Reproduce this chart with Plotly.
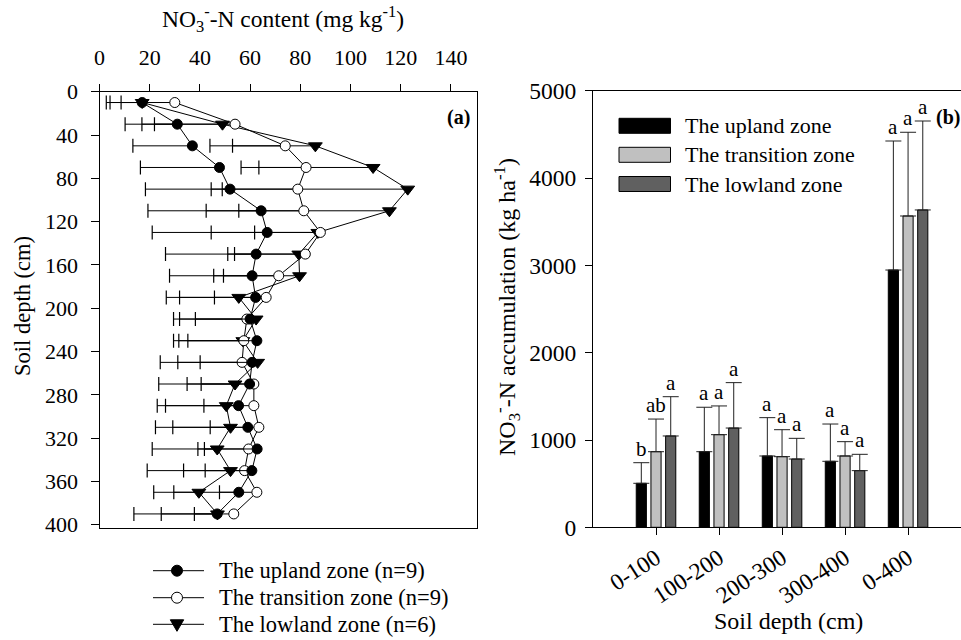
import plotly.graph_objects as go

# ---------------- Panel (a) data ----------------
depth = [10, 30, 50, 70, 90, 110, 130, 150, 170, 190, 210, 230, 250, 270, 290, 310, 330, 350, 370, 390]

upland = [17, 31, 37, 47.8, 52, 64.4, 66.8, 62.4, 60.8, 62.2, 60, 62.7, 60.8, 59.8, 55.4, 59.1, 62.8, 60.7, 55.5, 46.9]
upland_sd = [12.8, 14.1, 23.7, 31.5, 33.7, 45.1, 45.8, 36.1, 32.9, 35.6, 30.5, 33.2, 36.6, 36.2, 32.4, 36.8, 41.8, 41.7, 33.9, 33.2]

transition = [30, 54, 74, 82.3, 79, 81.4, 88, 82, 71.4, 66.4, 58.7, 57.5, 56.8, 61.5, 61.5, 63.5, 59.4, 57.8, 62.7, 53.5]
transition_sd = [21.4, 32.1, 21, 18.8, 30.1, 25.9, 26.2, 28.2, 22, 20.6, 20.5, 22.3, 16.7, 21, 19.9, 19.4, 17.6, 15.7, 14.9, 15.7]

lowland = [17, 49, 86, 109, 122.8, 115.5, 87, 79.4, 79.7, 55.5, 62.4, 57.1, 63, 54, 50.5, 52.2, 46.9, 52.2, 39.6, 47]
lowland_sd = [14.3, 38.8, 42, 52.6, 78.3, 73, 42.5, 28.3, 34.2, 23.6, 30.5, 25.5, 31.8, 19.1, 24.2, 23, 7.7, 18.7, 10, 22.4]

x_ticks_a = [0, 20, 40, 60, 80, 100, 120, 140]
y_ticks_a = [0, 40, 80, 120, 160, 200, 240, 280, 320, 360, 400]

# ---------------- Panel (b) data ----------------
layers = ["0-100", "100-200", "200-300", "300-400", "0-400"]
acc_upland = [504, 866, 817, 756, 2947]
acc_upland_err = [236, 509, 439, 427, 1478]
acc_transition = [866, 1061, 809, 817, 3566]
acc_transition_err = [374, 329, 309, 164, 959]
acc_lowland = [1046, 1137, 782, 649, 3635]
acc_lowland_err = [450, 520, 237, 187, 1019]
letters_upland = ["b", "a", "a", "a", "a"]
letters_transition = ["ab", "a", "a", "a", "a"]
letters_lowland = ["a", "a", "a", "a", "a"]

FONT = "Liberation Serif"
W, H = 961, 640


def px(x):
    return x / W


def py(y):
    return 1 - y / H


fig = go.Figure()

# series drawn lowland first so upland sits on top
series_a = [
    ("The lowland zone (n=6)", lowland, lowland_sd, "triangle-down", "black", 12),
    ("The transition zone (n=9)", transition, transition_sd, "circle", "white", 10),
    ("The upland zone (n=9)", upland, upland_sd, "circle", "black", 10),
]
for name, vals, sd, sym, fill, sz in series_a:
    caps = [v - s for v, s in zip(vals, sd)]
    fig.add_trace(go.Scatter(
        x=caps, y=depth, mode="markers", showlegend=False, hoverinfo="skip",
        marker=dict(symbol="line-ns", size=10, line=dict(color="black", width=1.2)),
        xaxis="x", yaxis="y"))
for name, vals, sd, sym, fill, sz in series_a:
    fig.add_trace(go.Scatter(
        x=vals, y=depth, mode="lines+markers", name=name, showlegend=False,
        line=dict(color="black", width=1),
        marker=dict(symbol=sym, size=sz, color=fill, line=dict(color="black", width=1)),
        error_x=dict(type="data", symmetric=False, array=[0] * len(vals), arrayminus=sd,
                     color="black", thickness=1, width=0),
        xaxis="x", yaxis="y"))

# ---------------- Panel (b) bars ----------------
bar_specs = [
    ("The upland zone", acc_upland, acc_upland_err, "#000000", letters_upland, -14.7),
    ("The transition zone", acc_transition, acc_transition_err, "#c0c0c0", letters_transition, 0),
    ("The lowland zone", acc_lowland, acc_lowland_err, "#606060", letters_lowland, 14.7),
]
annotations = []
for name, vals, err, col, lets, shift in bar_specs:
    fig.add_trace(go.Bar(
        x=layers, y=vals, name=name, showlegend=False,
        marker=dict(color=col, line=dict(color="black", width=1)),
        error_y=dict(type="data", symmetric=False, array=err, arrayminus=[0] * len(err),
                     color="#222222", thickness=1, width=8),
        xaxis="x2", yaxis="y2"))
    for lay, v, e, t in zip(layers, vals, err, lets):
        annotations.append(dict(
            x=lay, y=v + e, xref="x2", yref="y2", text=t, showarrow=False,
            xshift=shift, yshift=0, yanchor="bottom", xanchor="center",
            font=dict(family=FONT, size=21, color="black")))

shapes = []
# manual legend for panel (b)
legend_b = [("The upland zone", "#000000", 125.8),
            ("The transition zone", "#c0c0c0", 154.8),
            ("The lowland zone", "#606060", 184.0)]
for label, col, yc in legend_b:
    shapes.append(dict(type="rect", xref="paper", yref="paper",
                       x0=px(619), x1=px(670.5), y0=py(yc + 7.5), y1=py(yc - 7.5),
                       fillcolor=col, line=dict(color="black", width=1)))
    annotations.append(dict(x=px(683), y=py(yc), xref="paper", yref="paper", text=label,
                            showarrow=False, xanchor="left", yanchor="middle",
                            font=dict(family=FONT, size=22, color="black")))

# manual legend for panel (a)
legend_a = [("The upland zone (n=9)", "circle", "black", 570.7),
            ("The transition zone (n=9)", "circle", "white", 597.7),
            ("The lowland zone (n=6)", "triangle", "black", 624.3)]
mx = 177
for label, kind, fill, yc in legend_a:
    shapes.append(dict(type="line", xref="paper", yref="paper",
                       x0=px(153), x1=px(204), y0=py(yc), y1=py(yc),
                       line=dict(color="black", width=1)))
    if kind == "circle":
        shapes.append(dict(type="circle", xref="paper", yref="paper",
                           x0=px(mx - 5.5), x1=px(mx + 5.5), y0=py(yc + 5.5), y1=py(yc - 5.5),
                           fillcolor=fill, line=dict(color="black", width=1)))
    else:
        path = "M{:.5f},{:.5f} L{:.5f},{:.5f} L{:.5f},{:.5f} Z".format(
            px(mx - 6.7), py(yc - 4.5), px(mx + 6.7), py(yc - 4.5), px(mx), py(yc + 7))
        shapes.append(dict(type="path", xref="paper", yref="paper", path=path,
                           fillcolor=fill, line=dict(color="black", width=1)))
    annotations.append(dict(x=px(217), y=py(yc), xref="paper", yref="paper", text=label,
                            showarrow=False, xanchor="left", yanchor="middle",
                            font=dict(family=FONT, size=22.5, color="black")))

# titles and panel labels
annotations += [
    dict(x=px(283), y=py(19), xref="paper", yref="paper",
         text="NO<sub>3</sub><sup>-</sup>-N content (mg kg<sup>-1</sup>)", showarrow=False,
         xanchor="center", yanchor="middle", font=dict(family=FONT, size=23.5, color="black")),
    dict(x=px(22), y=py(306), xref="paper", yref="paper", text="Soil depth (cm)",
         showarrow=False, textangle=-90, xanchor="center", yanchor="middle",
         font=dict(family=FONT, size=22.5, color="black")),
    dict(x=px(507), y=py(307), xref="paper", yref="paper",
         text="NO<sub>3</sub><sup>-</sup>-N accumulation (kg ha<sup>-1</sup>)", showarrow=False,
         textangle=-90, xanchor="center", yanchor="middle",
         font=dict(family=FONT, size=24, color="black")),
    dict(x=px(788), y=py(621), xref="paper", yref="paper", text="Soil depth (cm)",
         showarrow=False, xanchor="center", yanchor="middle",
         font=dict(family=FONT, size=24, color="black")),
    dict(x=px(458), y=py(117), xref="paper", yref="paper", text="<b>(a)</b>",
         showarrow=False, xanchor="center", yanchor="middle",
         font=dict(family=FONT, size=20, color="black")),
    dict(x=px(948), y=py(118), xref="paper", yref="paper", text="<b>(b)</b>",
         showarrow=False, xanchor="center", yanchor="middle",
         font=dict(family=FONT, size=20, color="black")),
]

axis_common = dict(showgrid=False, zeroline=False, showline=True, linecolor="black",
                   linewidth=1, ticks="outside", tickcolor="black", tickwidth=1,
                   automargin=False)

fig.update_layout(
    width=W, height=H, margin=dict(l=0, r=0, t=0, b=0, pad=0, autoexpand=False),
    paper_bgcolor="white", plot_bgcolor="white",
    font=dict(family=FONT, color="black"),
    barmode="group", bargap=0.3, bargroupgap=0.31,
    xaxis=dict(domain=[px(99.5), px(477)], range=[0, 150.4], side="top", tickvals=x_ticks_a,
               ticklen=7, mirror=True, anchor="y", ticklabelstandoff=10,
               tickfont=dict(family=FONT, size=22), **axis_common),
    yaxis=dict(domain=[py(528), py(91.7)], range=[403, 0], tickvals=y_ticks_a,
               ticklen=8, mirror=True, anchor="x", ticklabelstandoff=8,
               tickfont=dict(family=FONT, size=22), **axis_common),
    xaxis2=dict(domain=[px(593), 1.0], range=[-1, 4.84], type="category", tickangle=-33,
                ticklen=7, mirror=True, anchor="y2",
                tickfont=dict(family=FONT, size=23.5), **axis_common),
    yaxis2=dict(domain=[py(527.3), py(90.8)], range=[0, 5000], dtick=1000,
                ticklen=7, anchor="x2", ticklabelstandoff=4,
                tickfont=dict(family=FONT, size=23.5), **axis_common),
    showlegend=False,
    annotations=annotations, shapes=shapes,
)

fig.write_html("out.html")
